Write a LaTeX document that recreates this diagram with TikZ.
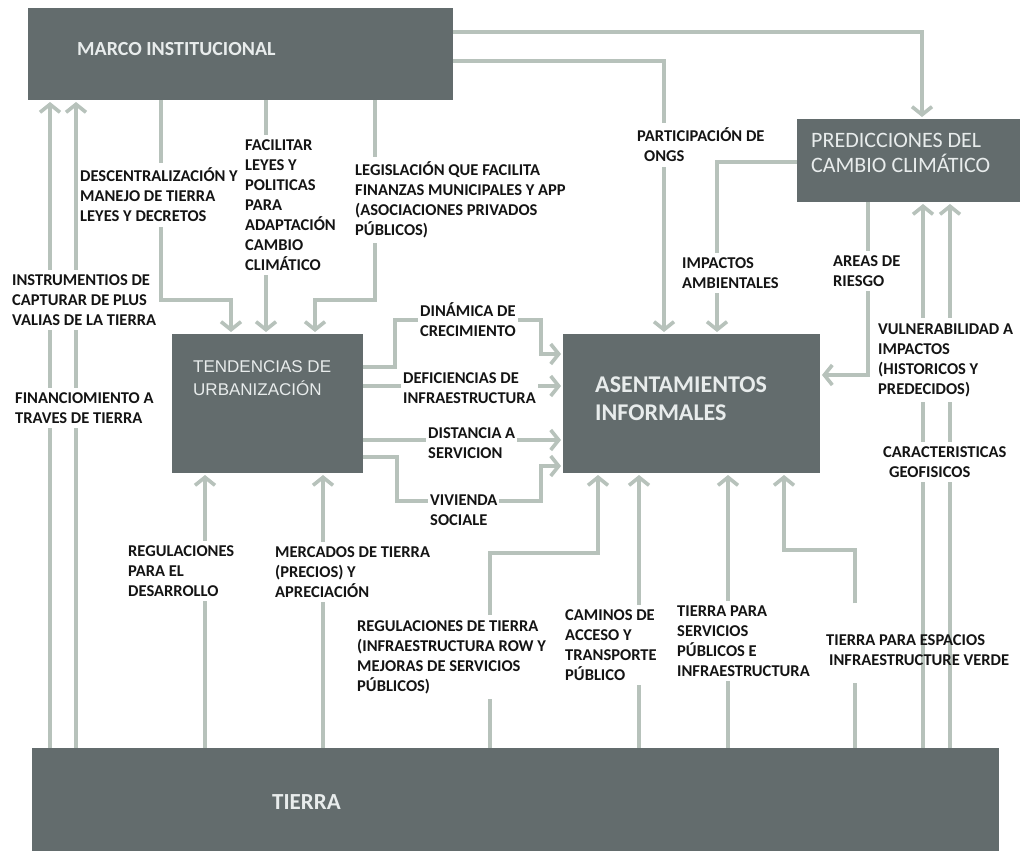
\documentclass[tikz,border=0pt]{standalone}
\usepackage{fontspec}
\setmainfont{Carlito}
\newfontfamily\arialfont{Liberation Sans}
\usetikzlibrary{arrows.meta,backgrounds}

\definecolor{boxgray}{RGB}{99,108,109}
\definecolor{linegray}{RGB}{183,194,187}
\definecolor{titlecol}{RGB}{232,236,236}
\definecolor{labelcol}{RGB}{20,20,20}

\tikzset{
  blok/.style={fill=boxgray, inner sep=0pt, outer sep=0pt},
  titel/.style={text=titlecol, anchor=west, align=left, inner sep=0pt},
  etiq/.style={text=labelcol, font=\bfseries\fontsize{16.5}{20}\selectfont, align=left,
    anchor=west, inner xsep=2pt, inner ysep=5pt, fill=white},
  linea/.style={draw=linegray, line width=3.6pt},
  flecha/.style={linea, -{Straight Barb[length=8pt,width=20pt]}, shorten >=2pt},
}

\begin{document}
\begin{tikzpicture}[x=1pt,y=-1pt]
\useasboundingbox (0,0) rectangle (1023,851);

% cajas
\node[blok, minimum width=425pt, minimum height=92pt] (marco) at (240.5,54) {};
\node[blok, minimum width=223pt, minimum height=83pt] (pred) at (908.5,160.5) {};
\node[blok, minimum width=191pt, minimum height=139pt] (tend) at (267.5,403.5) {};
\node[blok, minimum width=257pt, minimum height=139pt] (asen) at (691.5,403.5) {};
\node[blok, minimum width=967pt, minimum height=103pt] (tierra) at (515.5,799.5) {};

\node[titel, font=\bfseries\fontsize{20}{24}\selectfont] (marcot) at (77,49) {MARCO INSTITUCIONAL};
\node[titel, font=\fontsize{22}{25}\selectfont] (predt) at (811,153) {PREDICCIONES DEL\\CAMBIO CLIMÁTICO};
\node[titel, font=\arialfont\fontsize{17}{23}\selectfont] (tendt) at (193,378) {TENDENCIAS DE\\URBANIZACIÓN};
\node[titel, font=\bfseries\fontsize{24}{28}\selectfont] (asent) at (595,399) {ASENTAMIENTOS\\INFORMALES};
\node[titel, font=\bfseries\fontsize{23}{27}\selectfont] (tierrat) at (272,802) {TIERRA};

% etiquetas
\node[etiq] (desc) at (78,195) {DESCENTRALIZACIÓN Y\\MANEJO DE TIERRA\\LEYES Y DECRETOS};
\node[etiq] (facil) at (243,205) {FACILITAR\\LEYES Y\\POLITICAS\\PARA\\ADAPTACIÓN\\CAMBIO\\CLIMÁTICO};
\node[etiq] (legis) at (353,200) {LEGISLACIÓN QUE FACILITA\\FINANZAS MUNICIPALES Y APP\\(ASOCIACIONES PRIVADOS\\PÚBLICOS)};
\node[etiq, fill=none] (partic) at (635,145) {PARTICIPACIÓN DE\\\hspace*{7pt}ONGS};
\node[etiq] (instr) at (10,300) {INSTRUMENTIOS DE\\CAPTURAR DE PLUS\\VALIAS DE LA TIERRA};
\node[etiq] (finan) at (13,408) {FINANCIOMIENTO A\\TRAVES DE TIERRA};
\node[etiq] (regdes) at (126,571) {REGULACIONES\\PARA EL\\DESARROLLO};
\node[etiq] (merc) at (273,572) {MERCADOS DE TIERRA\\(PRECIOS) Y\\APRECIACIÓN};
\node[etiq] (din) at (418,320) {DINÁMICA DE\\CRECIMIENTO};
\node[etiq] (def) at (401,388) {DEFICIENCIAS DE\\INFRAESTRUCTURA};
\node[etiq] (dist) at (426,443) {DISTANCIA A\\SERVICION};
\node[etiq] (viv) at (428,510) {VIVIENDA\\SOCIALE};
\node[etiq] (impac) at (680,273) {IMPACTOS\\AMBIENTALES};
\node[etiq] (areas) at (831,271) {AREAS DE\\RIESGO};
\node[etiq] (vuln) at (876,360) {VULNERABILIDAD A\\IMPACTOS\\(HISTORICOS Y\\PREDECIDOS)};
\node[etiq] (carac) at (881,462) {CARACTERISTICAS\\\hspace*{6pt}GEOFISICOS};
\node[etiq] (regtie) at (355,657) {REGULACIONES DE TIERRA\\(INFRAESTRUCTURA ROW Y\\MEJORAS DE SERVICIOS\\PÚBLICOS)};
\node[etiq] (camin) at (563,645) {CAMINOS DE\\ACCESO Y\\TRANSPORTE\\PÚBLICO};
\node[etiq] (serv) at (675,641) {TIERRA PARA\\SERVICIOS\\PÚBLICOS E\\INFRAESTRUCTURA};
\node[etiq, fill=none] (espac) at (824,650) {TIERRA PARA ESPACIOS\\\hspace*{3pt}INFRAESTRUCTURE VERDE};

% puntos de quiebre
\coordinate (k1) at (922,32);
\coordinate (k2) at (664,61);
\coordinate (k3) at (161,300);
\coordinate (k4) at (231,300);
\coordinate (k5) at (375,300);
\coordinate (k6) at (315,300);
\coordinate (k7) at (266,200);
\coordinate (k8) at (50,400);
\coordinate (k9) at (76,400);
\coordinate (k10) at (205,600);
\coordinate (k11) at (323,600);
\coordinate (k12) at (395,367);
\coordinate (k13) at (395,320);
\coordinate (k14) at (541,320);
\coordinate (k15) at (541,354);
\coordinate (k16) at (480,386);
\coordinate (k17) at (480,440);
\coordinate (k18) at (397,457);
\coordinate (k19) at (397,501);
\coordinate (k20) at (541,501);
\coordinate (k21) at (541,466);
\coordinate (k22) at (717,162);
\coordinate (k23) at (868,375);
\coordinate (k24) at (923,500);
\coordinate (k25) at (950,500);
\coordinate (k26) at (490,553);
\coordinate (k27) at (598,553);
\coordinate (k28) at (639,600);
\coordinate (k29) at (728,600);
\coordinate (k30) at (855,550);
\coordinate (k31) at (784,550);

\begin{scope}[on background layer]
\fill[white] (0,0) rectangle (1023,851);
% desde marco
\draw[flecha] (k1 -| marco.east) -- (k1) -- (pred.north -| k1);
\draw[linea] (k2 -| marco.east) -- (k2) -- (partic.north -| k2);
\draw[flecha] (partic.south -| k2) -- (asen.north -| k2);
\draw[flecha] (marco.south -| k3) -- (k3) -- (k4) -- (tend.north -| k4);
\draw[flecha] (marco.south -| k7) -- (tend.north -| k7);
\draw[flecha] (marco.south -| k5) -- (k5) -- (k6) -- (tend.north -| k6);
% desde tierra
\draw[flecha] (tierra.north -| k8) -- (marco.south -| k8);
\draw[flecha] (tierra.north -| k9) -- (marco.south -| k9);
\draw[flecha] (tierra.north -| k10) -- (tend.south -| k10);
\draw[flecha] (tierra.north -| k11) -- (tend.south -| k11);
\draw[flecha] (tierra.north -| k24) -- (pred.south -| k24);
\draw[flecha] (tierra.north -| k25) -- (pred.south -| k25);
\draw[flecha] (tierra.north -| k26) -- (k26) -- (k27) -- (asen.south -| k27);
\draw[flecha] (tierra.north -| k28) -- (asen.south -| k28);
\draw[flecha] (tierra.north -| k29) -- (asen.south -| k29);
\draw[linea, shorten >=12pt] (tierra.north -| k30) -- (espac.south -| k30);
\draw[flecha, shorten <=26pt] (espac.north -| k30) -- (k30) -- (k31) -- (asen.south -| k31);
% tendencias a asentamientos
\draw[flecha] (k12 -| tend.east) -- (k12) -- (k13) -- (k14) -- (k15) -- (k15 -| asen.west);
\draw[flecha] (k16 -| tend.east) -- (k16 -| asen.west);
\draw[flecha] (k17 -| tend.east) -- (k17 -| asen.west);
\draw[flecha] (k18 -| tend.east) -- (k18) -- (k19) -- (k20) -- (k21) -- (k21 -| asen.west);
% predicciones a asentamientos
\draw[flecha] (k22 -| pred.west) -- (k22) -- (asen.north -| k22);
\draw[flecha] (pred.south -| k23) -- (k23) -- (k23 -| asen.east);
\end{scope}
\end{tikzpicture}
\end{document}
